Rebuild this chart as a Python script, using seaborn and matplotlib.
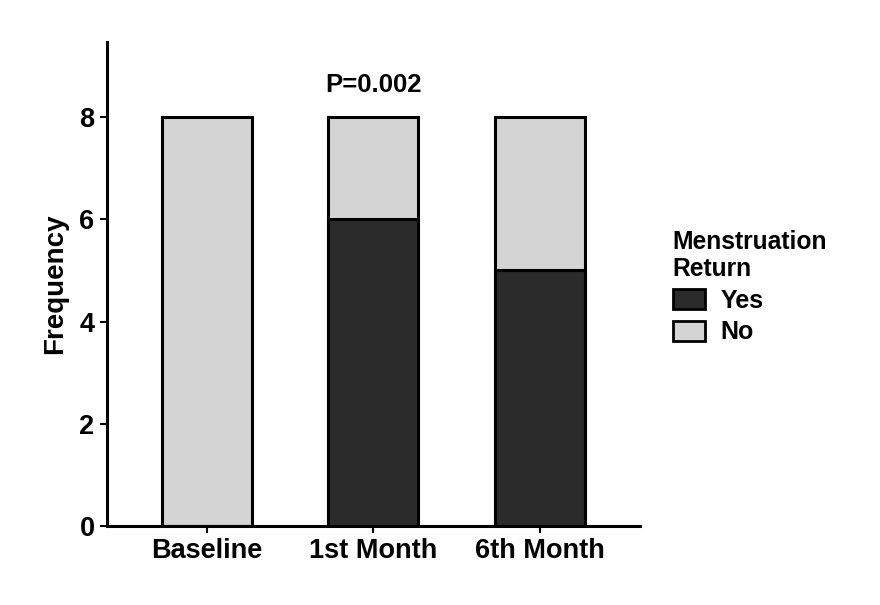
import matplotlib
matplotlib.use('Agg')
import matplotlib.pyplot as plt
from matplotlib.patches import Patch
import seaborn as sns
import pandas as pd

# data
timepoints = ['Baseline', '1st Month', '6th Month']
yes_counts = [0, 6, 5]
no_counts = [8, 2, 3]
p_label = 'P=0.002'

totals = [y + n for y, n in zip(yes_counts, no_counts)]
df = pd.DataFrame({'time': timepoints, 'yes': yes_counts, 'total': totals})

sns.set_style('white')
plt.rcParams['font.family'] = ['Liberation Sans', 'DejaVu Sans']
plt.rcParams['font.weight'] = 'bold'
plt.rcParams['text.color'] = 'black'
plt.rcParams['axes.labelcolor'] = 'black'
plt.rcParams['xtick.color'] = 'black'
plt.rcParams['ytick.color'] = 'black'

dark = '#2b2b2b'
light = '#d4d4d4'

fig = plt.figure(figsize=(8.8, 6.05), dpi=100)
ax = fig.add_axes([0.1216, 0.1306, 0.6054, 0.80])

# stacked bars: total (No on top) first, then Yes over it
sns.barplot(data=df, x='time', y='total', color=light, width=0.54,
            edgecolor='black', linewidth=2.2, saturation=1, ax=ax)
sns.barplot(data=df, x='time', y='yes', color=dark, width=0.54,
            edgecolor='black', linewidth=2.2, saturation=1, ax=ax)

ax.set_xlim(-0.6, 2.6)
ax.set_ylim(0, 9.47)
ax.set_yticks([0, 2, 4, 6, 8])
ax.set_xlabel('')
ax.set_ylabel('Frequency', fontsize=20, fontweight='bold', labelpad=8)
ax.tick_params(axis='both', labelsize=19.5, length=5, width=1.5, color='black',
               labelcolor='black', direction='out', left=True, bottom=True, pad=4)
for lab in ax.get_xticklabels() + ax.get_yticklabels():
    lab.set_fontweight('bold')

sns.despine(ax=ax)
for side in ['left', 'bottom']:
    ax.spines[side].set_linewidth(2.2)
    ax.spines[side].set_color('black')

ax.text(1, 8.4, p_label, ha='center', va='bottom', fontsize=18.5, fontweight='bold')

handles = [Patch(facecolor=dark, edgecolor='black', linewidth=2, label='Yes'),
           Patch(facecolor=light, edgecolor='black', linewidth=2, label='No')]
leg = fig.legend(handles=handles, title='Menstruation\nReturn', loc='upper left',
                 bbox_to_anchor=(0.753, 0.637), frameon=False, fontsize=18,
                 title_fontproperties={'weight': 'bold', 'size': 17.7},
                 handlelength=1.3, handleheight=0.85, handletextpad=0.6,
                 labelspacing=0.3, alignment='left', borderaxespad=0)
for t in leg.get_texts():
    t.set_fontweight('bold')

fig.savefig('out.png', dpi=100)
